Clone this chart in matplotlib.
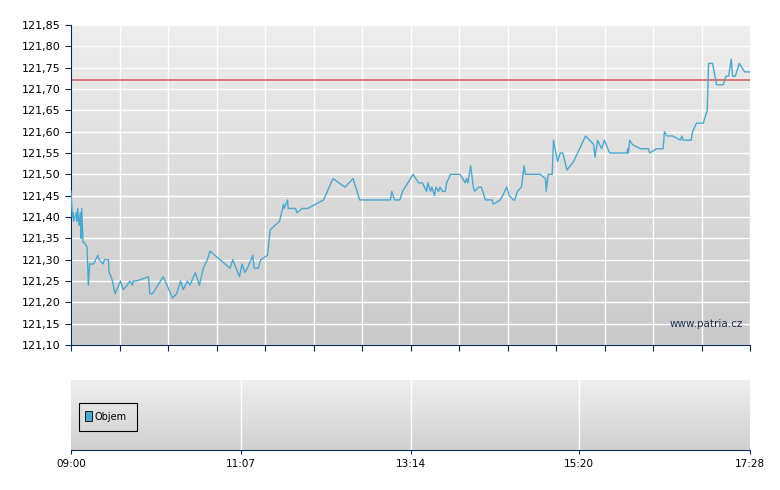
import matplotlib
matplotlib.use('Agg')
import matplotlib.pyplot as plt
import numpy as np
from matplotlib.patches import Rectangle

# minutes since 09:00 and price
minutes = [0, 1, 1.5, 2, 4, 4.5, 5, 6, 7, 7.5, 8, 9, 10, 12, 13, 14, 17, 20, 21, 24, 25, 28, 28.5, 30, 31,
           33, 37, 39, 42, 44, 46, 46.5, 49, 58, 59, 61, 63, 67, 69, 76, 79, 82, 84, 87, 89, 93, 96, 99, 102,
           104, 119, 121, 126, 128, 130, 132, 136, 137, 140, 142, 147, 149, 156, 159, 159.5, 162, 162.5, 168,
           169, 173, 177, 189, 196, 205, 211, 216, 239, 240, 242, 246, 248, 256, 260, 263, 266, 267, 269, 270,
           272, 273, 275, 276, 278, 280, 281, 284, 287, 291, 293, 295, 296, 297, 299, 301, 302, 305, 307, 308,
           310, 315, 316, 321, 323, 326, 328, 331, 332, 334, 337, 339, 340, 351, 355, 355.5, 357, 360, 361,
           364, 366, 368, 371, 376, 385, 391, 392, 394, 397, 399, 403, 416, 416.5, 417, 418, 420, 426, 432,
           433, 438, 443, 444, 446, 450, 456, 457, 458, 464, 465, 468, 473, 476, 477, 480, 483, 488, 490, 492,
           494, 495, 497, 500, 504, 508]
prices = [121.46, 121.40, 121.41, 121.39, 121.41, 121.39, 121.42, 121.38, 121.41, 121.35, 121.42, 121.34,
          121.34, 121.33, 121.24, 121.29, 121.29, 121.31, 121.30, 121.29, 121.30, 121.30, 121.27, 121.26,
          121.25, 121.22, 121.25, 121.23, 121.24, 121.25, 121.24, 121.25, 121.25, 121.26, 121.22, 121.22,
          121.23, 121.25, 121.26, 121.21, 121.22, 121.25, 121.23, 121.25, 121.24, 121.27, 121.24, 121.28,
          121.30, 121.32, 121.28, 121.30, 121.26, 121.29, 121.27, 121.28, 121.31, 121.28, 121.28, 121.30,
          121.31, 121.37, 121.39, 121.43, 121.42, 121.44, 121.42, 121.42, 121.41, 121.42, 121.42, 121.44,
          121.49, 121.47, 121.49, 121.44, 121.44, 121.46, 121.44, 121.44, 121.46, 121.50, 121.48, 121.48,
          121.46, 121.48, 121.46, 121.47, 121.45, 121.47, 121.46, 121.47, 121.46, 121.46, 121.48, 121.50,
          121.50, 121.50, 121.49, 121.48, 121.49, 121.48, 121.52, 121.47, 121.46, 121.47, 121.47, 121.46,
          121.44, 121.44, 121.43, 121.44, 121.45, 121.47, 121.45, 121.44, 121.44, 121.46, 121.47, 121.52,
          121.50, 121.50, 121.49, 121.46, 121.50, 121.50, 121.58, 121.53, 121.55, 121.55, 121.51, 121.53,
          121.59, 121.57, 121.54, 121.58, 121.56, 121.58, 121.55, 121.55, 121.56, 121.55, 121.58, 121.57,
          121.56, 121.56, 121.55, 121.56, 121.56, 121.60, 121.59, 121.59, 121.58, 121.59, 121.58, 121.58,
          121.60, 121.62, 121.62, 121.65, 121.76, 121.76, 121.71, 121.71, 121.73, 121.73, 121.77, 121.73,
          121.73, 121.76, 121.74, 121.74]
prev_close = 121.72
yticks = [121.10, 121.15, 121.20, 121.25, 121.30, 121.35, 121.40, 121.45, 121.50, 121.55, 121.60,
          121.65, 121.70, 121.75, 121.80, 121.85]
time_labels = ['09:00', '11:07', '13:14', '15:20', '17:28']
time_label_min = [0, 127, 254, 380, 508]

navy = '#0a2a5a'
fig = plt.figure(figsize=(7.8, 4.9), dpi=100)
ax = fig.add_axes([71/780, 1-345/490, 679/780, 320/490])
ax2 = fig.add_axes([71/780, 1-450/490, 679/780, 70/490])

grad = np.linspace(0, 1, 256).reshape(-1, 1)
ax.imshow(grad, extent=[0, 508, 121.10, 121.85], aspect='auto', cmap=matplotlib.colors.LinearSegmentedColormap.from_list('g', ['#c9c9c9', '#eeeeee']), origin='lower', zorder=0)
ax2.imshow(grad, extent=[0, 508, 0, 1], aspect='auto', cmap=matplotlib.colors.LinearSegmentedColormap.from_list('g', ['#d0d0d0', '#efefef']), origin='lower', zorder=0)

vgrid = np.linspace(0, 508, 15)
for v in vgrid:
    ax.axvline(v, color='white', lw=1, zorder=1)
for t in yticks:
    ax.axhline(t, color='white', lw=1, zorder=1)
ax.axhline(prev_close, color='#e06060', lw=1.2, zorder=2)
ax.plot(minutes, prices, color='#4aa8d0', lw=1, zorder=3)

ax.set_xlim(0, 508)
ax.set_ylim(121.10, 121.85)
ax.set_yticks(yticks)
ax.set_yticklabels([f'{t:.2f}'.replace('.', ',') for t in yticks], fontsize=8)
ax.set_xticks(vgrid)
ax.set_xticklabels([])
ax.tick_params(axis='x', length=4, color=navy, direction='out')
ax.tick_params(axis='y', length=4, color=navy)
for s in ['top', 'right']:
    ax.spines[s].set_visible(False)
for s in ['left', 'bottom']:
    ax.spines[s].set_color(navy)
ax.text(0.99, 0.05, 'www.patria.cz', transform=ax.transAxes, ha='right', va='bottom', fontsize=7.5, color='#203050')

for m in time_label_min[1:-1]:
    ax2.axvline(m, color='white', lw=1, zorder=1)
ax2.set_xlim(0, 508)
ax2.set_ylim(0, 1)
ax2.set_yticks([])
ax2.set_xticks(time_label_min)
ax2.set_xticklabels(time_labels, fontsize=7.5)
ax2.tick_params(axis='x', length=3, color=navy)
for s in ['top', 'right', 'left']:
    ax2.spines[s].set_visible(False)
ax2.spines['bottom'].set_color(navy)
ax2.add_patch(Rectangle((0.012, 0.27), 0.085, 0.4, transform=ax2.transAxes, facecolor='none', edgecolor='black', lw=0.8, zorder=3))
ax2.add_patch(Rectangle((0.02, 0.42), 0.011, 0.14, transform=ax2.transAxes, facecolor='#4aa8d0', edgecolor='black', lw=0.6, zorder=4))
ax2.text(0.035, 0.47, 'Objem', transform=ax2.transAxes, fontsize=7, va='center', zorder=4)

fig.savefig('out.png', dpi=100, facecolor='white')
